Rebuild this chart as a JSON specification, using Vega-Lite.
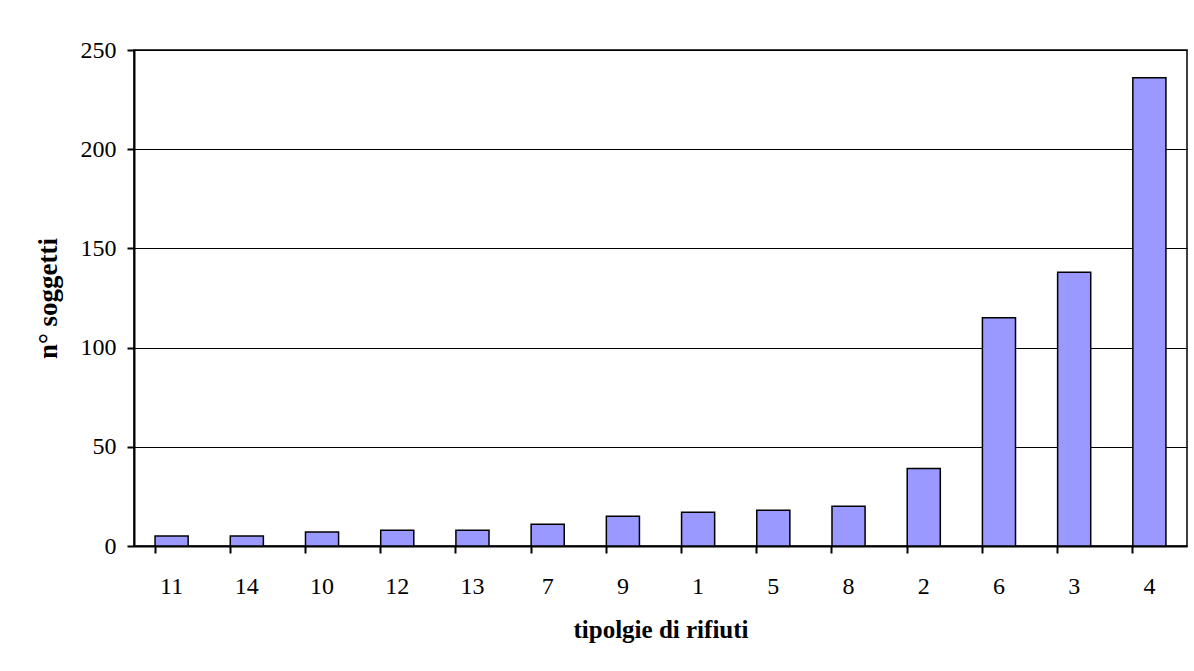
{
  "$schema": "https://vega.github.io/schema/vega-lite/v6.json",
  "autosize": "none",
  "width": 1053,
  "height": 496,
  "padding": {"left": 134, "top": 50, "right": 7, "bottom": 125},
  "background": "white",
  "data": {
    "values": [
      {"tipologia": "11", "soggetti": 5},
      {"tipologia": "14", "soggetti": 5},
      {"tipologia": "10", "soggetti": 7},
      {"tipologia": "12", "soggetti": 8},
      {"tipologia": "13", "soggetti": 8},
      {"tipologia": "7", "soggetti": 11},
      {"tipologia": "9", "soggetti": 15},
      {"tipologia": "1", "soggetti": 17},
      {"tipologia": "5", "soggetti": 18},
      {"tipologia": "8", "soggetti": 20},
      {"tipologia": "2", "soggetti": 39},
      {"tipologia": "6", "soggetti": 115},
      {"tipologia": "3", "soggetti": 138},
      {"tipologia": "4", "soggetti": 236}
    ]
  },
  "mark": {"type": "bar", "color": "#9999FF", "stroke": "black", "strokeWidth": 1.5},
  "encoding": {
    "x": {
      "field": "tipologia",
      "type": "nominal",
      "sort": null,
      "scale": {"paddingInner": 0.56, "paddingOuter": 0.28},
      "axis": {
        "title": "tipolgie di rifiuti",
        "labelAngle": 0,
        "bandPosition": 0,
        "tickSize": 7,
        "labelPadding": 21,
        "titlePadding": 19,
        "titleFontSize": 25
      }
    },
    "y": {
      "field": "soggetti",
      "type": "quantitative",
      "scale": {"domain": [0, 250], "nice": false},
      "axis": {
        "title": "n° soggetti",
        "values": [0, 50, 100, 150, 200, 250],
        "grid": true,
        "tickSize": 7,
        "labelPadding": 11,
        "titlePadding": 18,
        "titleFontSize": 27
      }
    }
  },
  "config": {
    "view": {"stroke": "black", "strokeWidth": 1.5},
    "axis": {
      "domainColor": "black",
      "domainWidth": 2,
      "tickColor": "black",
      "tickWidth": 2,
      "gridColor": "black",
      "gridWidth": 1.2,
      "gridOpacity": 1,
      "labelFont": "Liberation Serif",
      "labelFontSize": 24,
      "labelColor": "black",
      "titleFont": "Liberation Serif",
      "titleFontWeight": "bold",
      "titleColor": "black"
    }
  }
}
